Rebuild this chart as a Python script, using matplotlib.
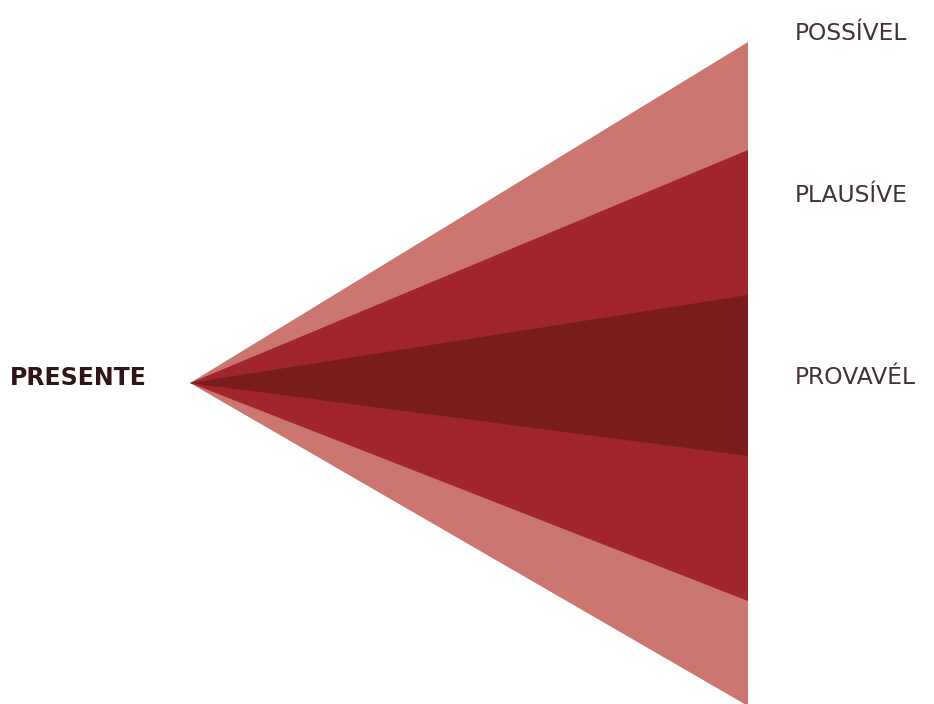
import matplotlib
matplotlib.use("Agg")
import matplotlib.pyplot as plt
from matplotlib.patches import Polygon

# Data: cone bands (outer to inner), spread at the far end (pixel-like units)
band_names = ["POSSÍVEL", "PLAUSÍVE", "PROVAVÉL"]
band_top = [42, 150, 295]
band_bottom = [706, 601, 456]
band_colors = ["#CB7670", "#A0262C", "#7B1C1C"]
label_y = [34, 196, 378]
apex = (190, 383)
end_x = 748
origin_label = "PRESENTE"

fig = plt.figure(figsize=(9.34, 7.04), dpi=100)
ax = fig.add_axes([0, 0, 1, 1])
ax.set_xlim(0, 934)
ax.set_ylim(704, 0)
ax.axis("off")

for name, top, bot, col, ly in zip(band_names, band_top, band_bottom, band_colors, label_y):
    poly = Polygon([apex, (end_x, top), (end_x, bot)], closed=True,
                   facecolor=col, edgecolor="none")
    ax.add_patch(poly)
    ax.text(795, ly, name, fontsize=16.8, family=["DejaVu Sans"],
            color="#433234", ha="left", va="center")

ax.text(10, 378, origin_label, fontsize=17, fontweight="bold",
        family=["DejaVu Sans"], color="#2e1618", ha="left", va="center")

fig.savefig("out.png", dpi=100)
